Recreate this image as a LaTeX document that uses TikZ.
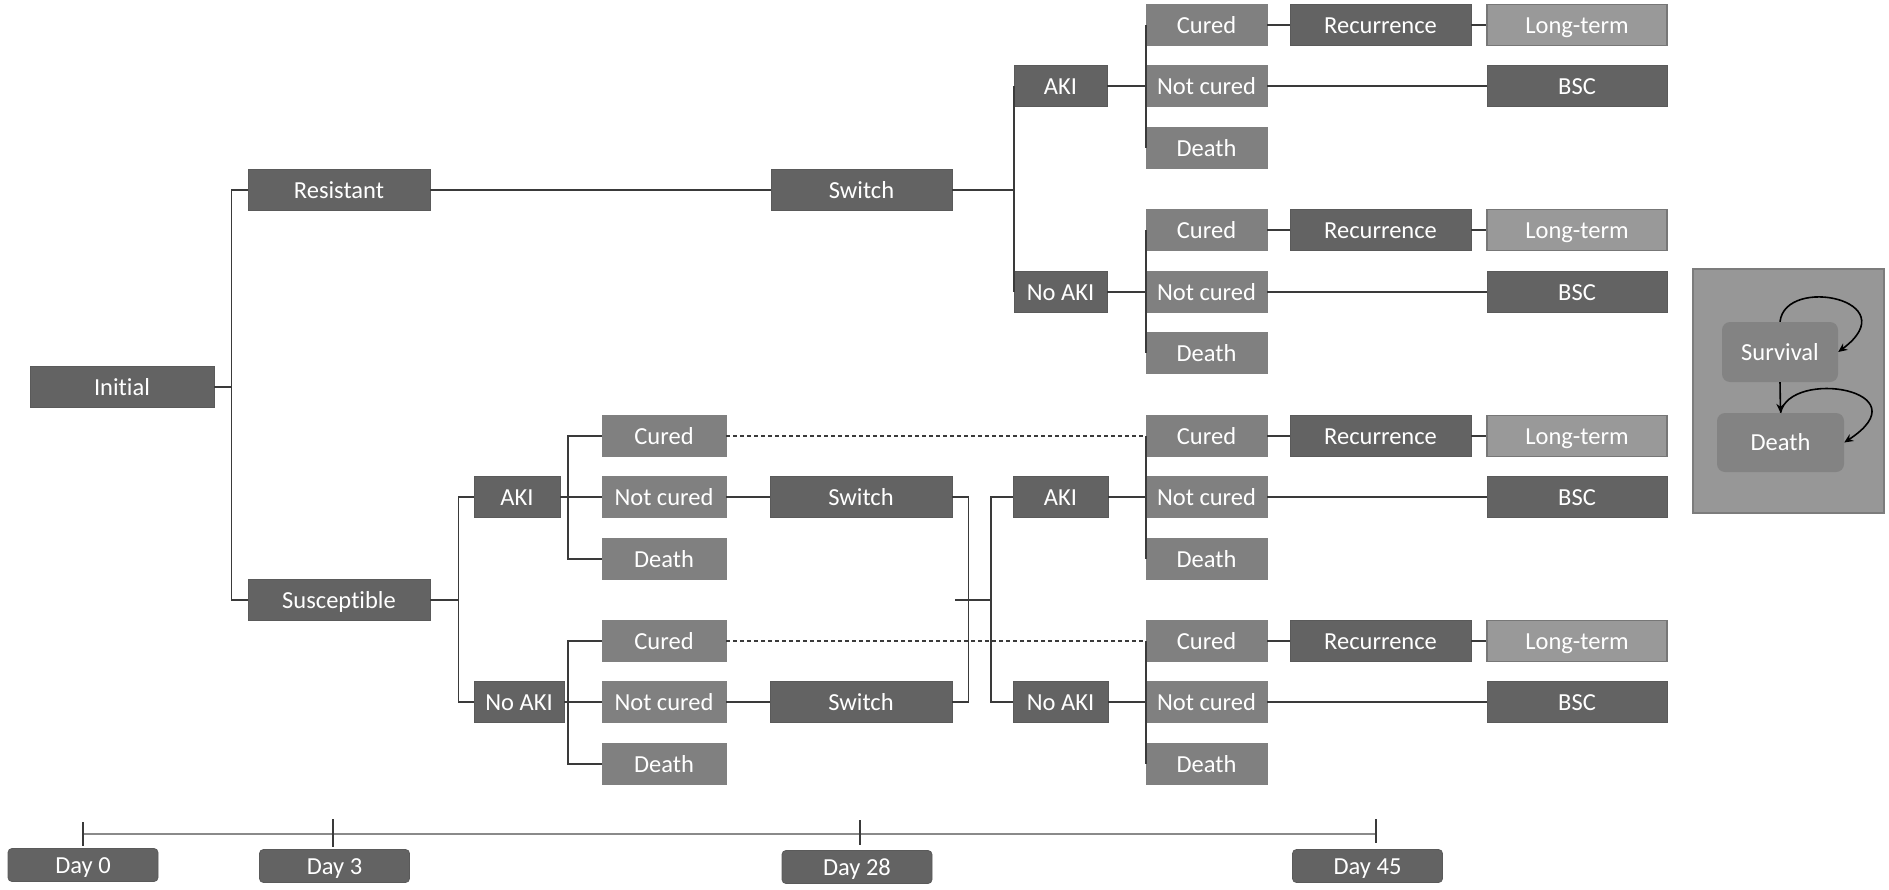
\documentclass[tikz,border=0pt]{standalone}
\usepackage{fontspec}
\setmainfont{Carlito}[Ligatures=NoCommon]
\usetikzlibrary{arrows.meta}
\definecolor{boxdark}{HTML}{636363}
\definecolor{boxdarkline}{HTML}{5A5A5A}
\definecolor{boxmid}{HTML}{808080}
\definecolor{boxlight}{HTML}{999999}
\definecolor{boxlightline}{HTML}{777777}
\definecolor{panelgray}{HTML}{979797}
\definecolor{panelline}{HTML}{7C7C7C}
\definecolor{stategray}{HTML}{838383}
\definecolor{linegray}{HTML}{3A3A3A}
\definecolor{axisgray}{HTML}{8A8A8A}
\begin{document}
\begin{tikzpicture}
    [x=1pt,y=-1pt,
    box/.style={minimum height=41pt,inner sep=0pt,text height=18pt,text depth=2pt,text=white,font=\fontsize{24.5}{28}\selectfont},
    dark/.style={box,fill=boxdark,draw=boxdarkline,line width=0.8pt},
    mid/.style={box,fill=boxmid,draw=boxmid,line width=0.8pt},
    light/.style={box,fill=boxlight,draw=boxlightline,line width=1.2pt},
    daybox/.style={box,minimum height=33pt,minimum width=150pt,rounded corners=4pt,fill=boxdark,draw=boxdarkline,line width=0.8pt},
    state/.style={box,rounded corners=8pt,fill=stategray},
    link/.style={draw=linegray,line width=1.8pt},
    loop/.style={draw=black,line width=1.6pt,-{Stealth[length=9pt,width=8pt]}}]
    \useasboundingbox (0,0) rectangle (1889,889);
    %start of tree
    \node[dark,minimum width=184pt] (init) at (122,387) {Initial};
    \node[dark,minimum width=182pt] (res) at (339,190) {Resistant};
    \node[dark,minimum width=182pt] (sus) at (339,600) {Susceptible};
    %resistant branch
    \node[dark,minimum width=181pt] (swR) at (861.5,190) {Switch};
    \node[dark,minimum width=93pt] (akiR) at (1060.5,86) {AKI};
    \node[dark,minimum width=93pt] (noakiR) at (1060.5,292) {No AKI};
    %susceptible branch
    \node[dark,minimum width=86pt] (akiS) at (517,497) {AKI};
    \node[dark,minimum width=90pt] (noakiS) at (519,702) {No AKI};
    \node[mid,minimum width=124pt] (cuS1) at (664,436) {Cured};
    \node[mid,minimum width=124pt] (ncS1) at (664,497) {Not cured};
    \node[mid,minimum width=124pt] (deS1) at (664,559) {Death};
    \node[mid,minimum width=124pt] (cuS2) at (664,641) {Cured};
    \node[mid,minimum width=124pt] (ncS2) at (664,702) {Not cured};
    \node[mid,minimum width=124pt] (deS2) at (664,764) {Death};
    \node[dark,minimum width=182pt] (swS1) at (861,497) {Switch};
    \node[dark,minimum width=182pt] (swS2) at (861,702) {Switch};
    \node[dark,minimum width=95pt] (akiT) at (1060.5,497) {AKI};
    \node[dark,minimum width=95pt] (noakiT) at (1060.5,702) {No AKI};
    \coordinate (merge) at (955,600);
    %outcomes, group 1
    \node[mid,minimum width=121pt] (cu1) at (1206.5,25) {Cured};
    \node[mid,minimum width=121pt] (nc1) at (1206.5,86) {Not cured};
    \node[mid,minimum width=121pt] (de1) at (1206.5,148) {Death};
    \node[dark,minimum width=181pt] (rec1) at (1380.5,25) {Recurrence};
    \node[light,minimum width=180pt] (lt1) at (1577,25) {Long-term};
    \node[dark,minimum width=180pt] (bsc1) at (1577,86) {BSC};
    %outcomes, group 2
    \node[mid,minimum width=121pt] (cu2) at (1206.5,230) {Cured};
    \node[mid,minimum width=121pt] (nc2) at (1206.5,292) {Not cured};
    \node[mid,minimum width=121pt] (de2) at (1206.5,353) {Death};
    \node[dark,minimum width=181pt] (rec2) at (1380.5,230) {Recurrence};
    \node[light,minimum width=180pt] (lt2) at (1577,230) {Long-term};
    \node[dark,minimum width=180pt] (bsc2) at (1577,292) {BSC};
    %outcomes, group 3
    \node[mid,minimum width=121pt] (cu3) at (1206.5,436) {Cured};
    \node[mid,minimum width=121pt] (nc3) at (1206.5,497) {Not cured};
    \node[mid,minimum width=121pt] (de3) at (1206.5,559) {Death};
    \node[dark,minimum width=181pt] (rec3) at (1380.5,436) {Recurrence};
    \node[light,minimum width=180pt] (lt3) at (1577,436) {Long-term};
    \node[dark,minimum width=180pt] (bsc3) at (1577,497) {BSC};
    %outcomes, group 4
    \node[mid,minimum width=121pt] (cu4) at (1206.5,641) {Cured};
    \node[mid,minimum width=121pt] (nc4) at (1206.5,702) {Not cured};
    \node[mid,minimum width=121pt] (de4) at (1206.5,764) {Death};
    \node[dark,minimum width=181pt] (rec4) at (1380.5,641) {Recurrence};
    \node[light,minimum width=180pt] (lt4) at (1577,641) {Long-term};
    \node[dark,minimum width=180pt] (bsc4) at (1577,702) {BSC};
    %connectors
    \draw[link] (init.east) -- +(17,0) |- (res.west);
    \draw[link] (init.east) -- +(17,0) |- (sus.west);
    \draw[link] (res) -- (swR);
    \draw[link] (swR.east) -- (swR.east -| akiR.west);
    \draw[link] (akiR.west) -- (noakiR.west);
    \draw[link] (akiR) -- (nc1);
    \draw[link] (noakiR) -- (nc2);
    \draw[link] (sus.east) -- +(28,0) |- (akiS.west);
    \draw[link] (sus.east) -- +(28,0) |- (noakiS.west);
    \draw[link] (akiS) -- (ncS1);
    \draw[link] (noakiS) -- (ncS2);
    \draw[link] (cuS1.west) -- +(-34,0) |- (deS1.west);
    \draw[link] (cuS2.west) -- +(-34,0) |- (deS2.west);
    \draw[link] (ncS1) -- (swS1);
    \draw[link] (ncS2) -- (swS2);
    \draw[link] (swS1.east) -- +(16,0) |- (swS2.east);
    \draw[link] (merge) -- +(36,0);
    \draw[link] (akiT.west) -- +(-22,0) |- (noakiT.west);
    \draw[link] (akiT) -- (nc3);
    \draw[link] (noakiT) -- (nc4);
    \draw[link,dash pattern=on 4pt off 3pt] (cuS1) -- (cu3);
    \draw[link,dash pattern=on 4pt off 3pt] (cuS2) -- (cu4);
    %outcome links
    \draw[link] (cu1.west) -- (de1.west);
    \draw[link] (cu2.west) -- (de2.west);
    \draw[link] (cu3.west) -- (de3.west);
    \draw[link] (cu4.west) -- (de4.west);
    \draw[link] (cu1) -- (rec1) (rec1) -- (lt1) (nc1) -- (bsc1);
    \draw[link] (cu2) -- (rec2) (rec2) -- (lt2) (nc2) -- (bsc2);
    \draw[link] (cu3) -- (rec3) (rec3) -- (lt3) (nc3) -- (bsc3);
    \draw[link] (cu4) -- (rec4) (rec4) -- (lt4) (nc4) -- (bsc4);
    %markov panel
    \draw[fill=panelgray,draw=panelline,line width=1.2pt] (1693,269) rectangle (1884,513);
    \node[state,minimum width=116pt,minimum height=60pt] (surv) at (1780,352) {Survival};
    \node[state,minimum width=127pt,minimum height=59pt] (dth) at (1780.5,442.5) {Death};
    \draw[loop] (surv.north) .. controls (1785,275) and (1908,300) .. (surv.east);
    \draw[loop] (surv.south) -- (dth.north);
    \draw[loop] (dth.north) .. controls (1790,368) and (1925,390) .. (dth.east);
    %time axis
    \coordinate (t0) at (83,834);
    \coordinate (t1) at (333,834);
    \coordinate (t2) at (860,834);
    \coordinate (t3) at (1376,834);
    \draw[draw=axisgray,line width=2.4pt] (t0) -- (t3);
    \draw[draw=linegray,line width=1.2pt] (t0) ++(0,-12) -- ++(0,24);
    \draw[draw=linegray,line width=1.2pt] (t1) ++(0,-15) -- ++(0,28);
    \draw[draw=linegray,line width=1.2pt] (t2) ++(0,-14) -- ++(0,25);
    \draw[draw=linegray,line width=1.2pt] (t3) ++(0,-15) -- ++(0,24);
    \node[daybox] (d0) at (83,865) {Day 0};
    \node[daybox] (d3) at (334.5,866) {Day 3};
    \node[daybox] (d28) at (857,867) {Day 28};
    \node[daybox] (d45) at (1367.5,866) {Day 45};
\end{tikzpicture}
\end{document}
